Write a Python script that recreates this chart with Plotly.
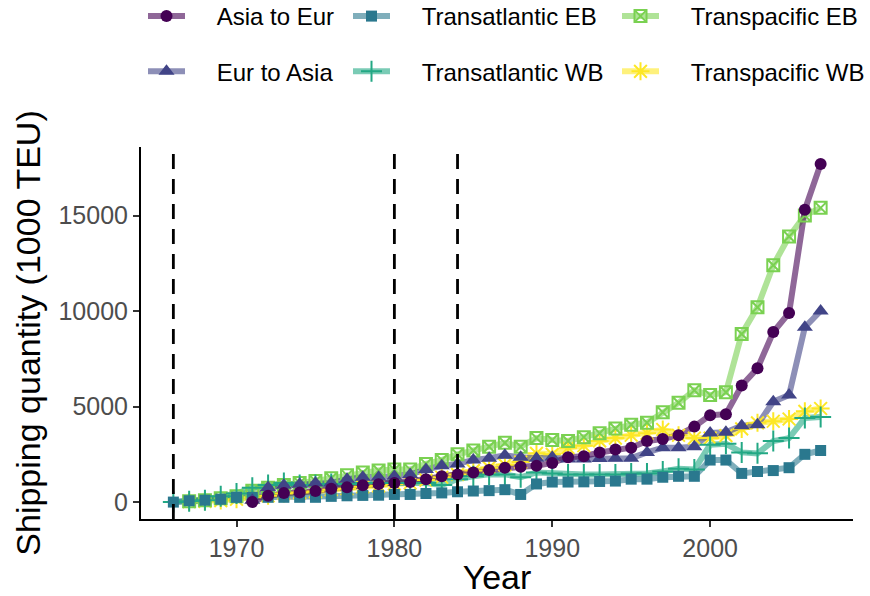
import plotly.graph_objects as go

years = [1966, 1967, 1968, 1969, 1970, 1971, 1972, 1973, 1974, 1975,
         1976, 1977, 1978, 1979, 1980, 1981, 1982, 1983, 1984, 1985,
         1986, 1987, 1988, 1989, 1990, 1991, 1992, 1993, 1994, 1995,
         1996, 1997, 1998, 1999, 2000, 2001, 2002, 2003, 2004, 2005,
         2006, 2007]

asia_to_eur = [None, None, None, None, None,
               0, 330, 470, 500, 580,
               700, 780, 880, 940, 1000,
               1050, 1200, 1350, 1450, 1550,
               1680, 1800, 1850, 1900, 2050,
               2350, 2400, 2600, 2750, 2850,
               3200, 3300, 3500, 3950, 4550,
               4600, 6100, 7000, 8900, 9900,
               15300, 17700]

eur_to_asia = [None, None, None, None, None,
               100, 760, 880, 940, 1000,
               1000, 1200, 1300, 1300, 1350,
               1450, 1700, 1900, 2000, 2200,
               2300, 2450, 2350, 2300, 2350,
               2250, 2250, 2280, 2300, 2300,
               2600, 2850, 2850, 2900, 3620,
               3650, 4000, 4050, 5250, 5600,
               9150, 10000]

transatlantic_eb = [0, 70, 100, 150, 250,
                    250, 250, 250, 250, 250,
                    300, 330, 350, 360, 400,
                    400, 450, 480, 540, 580,
                    600, 650, 400, 950, 1050,
                    1050, 1060, 1080, 1100, 1200,
                    1200, 1300, 1350, 1350, 2200,
                    2200, 1500, 1600, 1650, 1800,
                    2500, 2700]

transatlantic_wb = [0, 50, 100, 300, 450,
                    750, 900, 1000, 900, 900,
                    950, 950, 1000, 1000, 1000,
                    1000, 1000, 900, 1200, 1350,
                    1450, 1450, 1300, 1550, 1500,
                    1450, 1450, 1450, 1450, 1500,
                    1500, 1600, 1750, 1700, 3000,
                    3050, 2600, 2550, 3200, 3350,
                    4400, 4450]

transpacific_eb = [None, 50, 100, 200, 300,
                   600, 750, 900, 1000, 1100,
                   1250, 1400, 1550, 1650, 1700,
                   1700, 2000, 2200, 2500, 2700,
                   2900, 3100, 2900, 3350, 3250,
                   3200, 3400, 3600, 3850, 4050,
                   4150, 4700, 5200, 5850, 5600,
                   5750, 8800, 10200, 12400, 13900,
                   15000, 15400]

transpacific_wb = [None, 20, 40, 80, 150,
                   250, 330, 450, 500, 550,
                   650, 700, 800, 850, 950,
                   1000, 1150, 1300, 1450, 1650,
                   1800, 1950, 2100, 2550, 2500,
                   2850, 2950, 3200, 3350, 3500,
                   3600, 3800, 3500, 3350, 3350,
                   3480, 3830, 4150, 4230, 4350,
                   4750, 4900]

event_years = [1966, 1980, 1984]
x_ticks = [1970, 1980, 1990, 2000]
y_ticks = [0, 5000, 10000, 15000]
y_tick_labels = ["0", "5000", "10000", "15000"]

series = [
    ("Asia to Eur", asia_to_eur, "#440154", "circle", 12, "legend"),
    ("Eur to Asia", eur_to_asia, "#414487", "triangle-up", 14, "legend"),
    ("Transatlantic EB", transatlantic_eb, "#2A788E", "square", 11, "legend2"),
    ("Transatlantic WB", transatlantic_wb, "#22A884", "cross-thin-open", 15, "legend2"),
    ("Transpacific EB", transpacific_eb, "#7AD151", "square-x-open", 12, "legend3"),
    ("Transpacific WB", transpacific_wb, "#FDE725", "asterisk-open", 15, "legend3"),
]


def rgba(hex_color, a):
    h = hex_color.lstrip("#")
    r, g, b = int(h[0:2], 16), int(h[2:4], 16), int(h[4:6], 16)
    return f"rgba({r},{g},{b},{a})"


def marker_style(color, symbol, size):
    m = dict(symbol=symbol, size=size, color=color)
    if symbol.endswith("-open"):
        m["line"] = dict(color=color, width=2)
    else:
        m["line"] = dict(width=0)
    return m


fig = go.Figure()

# lines layer (under all points), drawn last series first
for name, vals, color, symbol, size, lg in reversed(series):
    fig.add_trace(go.Scatter(
        x=years, y=vals, mode="lines", name=name, showlegend=False,
        line=dict(color=rgba(color, 0.6), width=6), connectgaps=False,
        hoverinfo="skip"))

# points layer
for name, vals, color, symbol, size, lg in reversed(series):
    fig.add_trace(go.Scatter(
        x=years, y=vals, mode="markers", name=name, showlegend=False,
        marker=marker_style(color, symbol, size)))

# legend entries
pad_txt = "\u00a0\u00a0\u00a0\u00a0"
for i, (name, vals, color, symbol, size, lg) in enumerate(series):
    fig.add_trace(go.Scatter(
        x=[None], y=[None], mode="lines+markers", name=pad_txt + name,
        legend=lg, legendgroup=name,
        line=dict(color=rgba(color, 0.6), width=6),
        marker=marker_style(color, symbol, size)))

for yr in event_years:
    fig.add_shape(type="line", x0=yr, x1=yr, xref="x", y0=0, y1=1, yref="paper",
                  line=dict(color="black", width=2.8, dash="15px,10px"), layer="above")

all_vals = [v for s in series for v in s[1] if v is not None]
ymax = max(all_vals)
ymin = min(all_vals)
pad = 0.05 * (ymax - ymin)
xpad = 0.05 * (years[-1] - years[0])

font_family = "Liberation Sans, Arial, sans-serif"

leg_common = dict(orientation="v", yanchor="top", xanchor="left",
                  font=dict(size=24, color="black", family=font_family),
                  bgcolor="rgba(0,0,0,0)", traceorder="grouped",
                  tracegroupgap=21, itemwidth=37, y=(519 + 6) / 372)

fig.update_layout(
    width=870, height=596,
    margin=dict(l=141, r=17, t=147, b=77, autoexpand=False),
    plot_bgcolor="white", paper_bgcolor="white",
    font=dict(family=font_family),
    legend=dict(leg_common, x=(143 - 141) / 712),
    legend2=dict(leg_common, x=(348 - 141) / 712),
    legend3=dict(leg_common, x=(617 - 141) / 712),
    xaxis=dict(range=[years[0] - xpad, years[-1] + xpad], tickvals=x_ticks,
               showgrid=False, zeroline=False, showline=True, linecolor="black",
               linewidth=2, ticks="outside", ticklen=6, tickwidth=2, tickcolor="#333333",
               tickfont=dict(size=25, color="#4D4D4D"), automargin=False,
               title=dict(text="Year", font=dict(size=34, color="black"), standoff=4)),
    yaxis=dict(range=[ymin - pad, ymax + pad], tickvals=y_ticks, ticktext=y_tick_labels,
               showgrid=False, zeroline=False, showline=True, linecolor="black",
               linewidth=2, ticks="outside", ticklen=6, tickwidth=2, tickcolor="#333333",
               tickfont=dict(size=25, color="#4D4D4D"),
               title=dict(text="Shipping quantity (1000 TEU)",
                          font=dict(size=34, color="black"), standoff=8),
               automargin=False),
)

fig.write_html("out.html", config={"displayModeBar": False},
               post_script="document.body.style.margin='0';")
